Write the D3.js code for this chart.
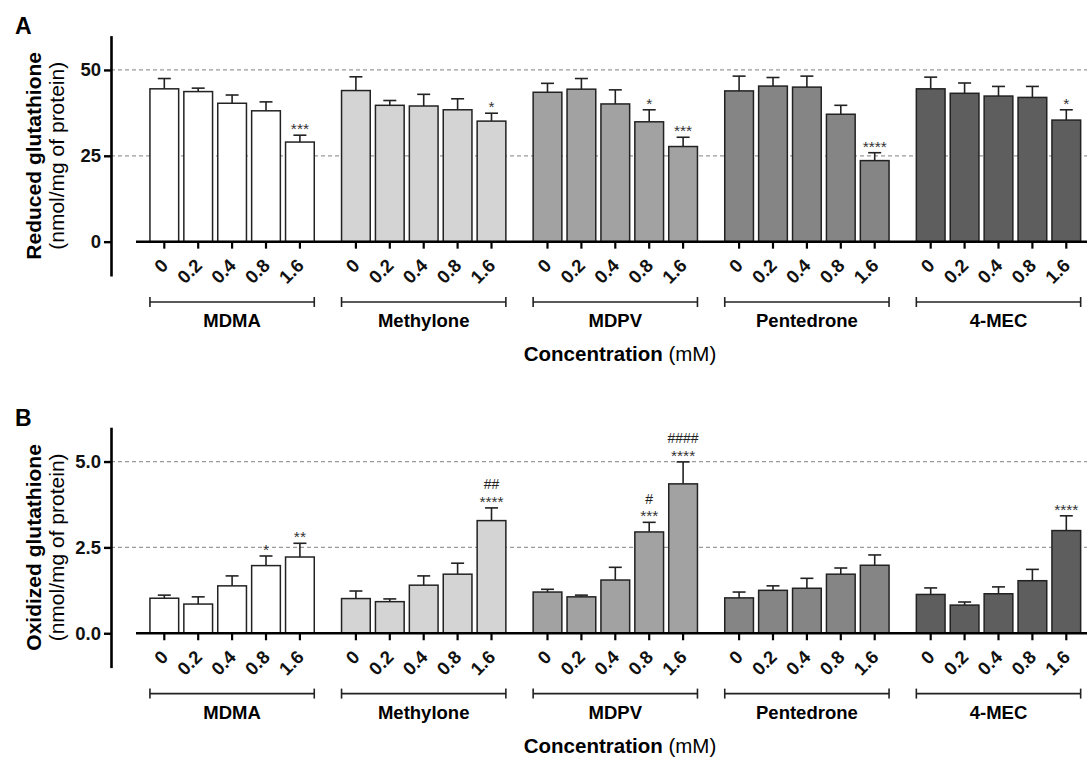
<!DOCTYPE html>
<html>
<head>
<meta charset="utf-8">
<script src="https://cdn.jsdelivr.net/npm/d3@7"></script>
<style>
  html, body { margin: 0; padding: 0; background: #fff; }
  svg { display: block; font-family: "Liberation Sans", Arial, sans-serif; }
</style>
</head>
<body>
<svg id="chart" width="1087" height="781"></svg>
<script>
// categories
const groups = ["MDMA", "Methylone", "MDPV", "Pentedrone", "4-MEC"];
const doses = ["0", "0.2", "0.4", "0.8", "1.6"];

// A - reduced glutathione (nmol/mg of protein), mean and SEM per group x dose
const gshMean = [
  [44.5, 43.7, 40.3, 38.1, 29.0],
  [44.0, 39.7, 39.5, 38.4, 35.1],
  [43.5, 44.4, 40.1, 34.9, 27.7],
  [43.9, 45.3, 45.0, 37.1, 23.6],
  [44.5, 43.2, 42.4, 42.0, 35.4]
];
const gshSem = [
  [3.0, 1.0, 2.4, 2.6, 2.0],
  [4.0, 1.4, 3.4, 3.2, 2.3],
  [2.6, 3.1, 4.1, 3.5, 2.7],
  [4.3, 2.5, 3.2, 2.6, 2.3],
  [3.4, 3.0, 2.8, 3.2, 3.0]
];
const gshStars = [
  ["", "", "", "", "***"],
  ["", "", "", "", "*"],
  ["", "", "", "*", "***"],
  ["", "", "", "", "****"],
  ["", "", "", "", "*"]
];
const gshHashes = [
  ["", "", "", "", ""],
  ["", "", "", "", ""],
  ["", "", "", "", ""],
  ["", "", "", "", ""],
  ["", "", "", "", ""]
];

// B - oxidized glutathione
const gssgMean = [
  [1.02, 0.85, 1.38, 1.97, 2.22],
  [1.01, 0.92, 1.40, 1.72, 3.28],
  [1.20, 1.06, 1.55, 2.95, 4.35],
  [1.03, 1.25, 1.31, 1.72, 1.98],
  [1.13, 0.82, 1.15, 1.53, 2.99]
];
const gssgSem = [
  [0.09, 0.21, 0.29, 0.28, 0.40],
  [0.22, 0.08, 0.27, 0.32, 0.37],
  [0.08, 0.05, 0.37, 0.28, 0.64],
  [0.17, 0.13, 0.29, 0.18, 0.30],
  [0.19, 0.09, 0.20, 0.33, 0.43]
];
const gssgStars = [
  ["", "", "", "*", "**"],
  ["", "", "", "", "****"],
  ["", "", "", "***", "****"],
  ["", "", "", "", ""],
  ["", "", "", "", "****"]
];
const gssgHashes = [
  ["", "", "", "", ""],
  ["", "", "", "", "##"],
  ["", "", "", "#", "####"],
  ["", "", "", "", ""],
  ["", "", "", "", ""]
];

// tick values of the y axes
const gshTicks = [0, 25, 50];
const gssgTicks = [0, 2.5, 5];

const fills = ["#ffffff", "#d4d4d4", "#a2a2a2", "#858585", "#5e5e5e"];
const FONT = "'Liberation Sans', Arial, sans-serif";

const svg = d3.select("#chart");

const axisX = 111;
const baseStart = 136;
const W = 1087;

const xGroup = d3.scaleBand()
  .domain(groups)
  .range([147.35, 1083.25])
  .paddingInner(0.1153)
  .paddingOuter(0);

const xDose = d3.scaleBand()
  .domain(doses)
  .range([0, xGroup.bandwidth()])
  .paddingInner(0.153)
  .paddingOuter(0.0765);

function drawPanel(opts) {
  const off = opts.offset;
  const g = svg.append("g").attr("transform", `translate(0,${off})`);

  const y = d3.scaleLinear().domain(opts.domain).range([276.0, 35.6]);

  // panel letter
  g.append("text")
    .attr("x", 15).attr("y", 34)
    .attr("font-size", 23).attr("font-weight", "bold")
    .attr("font-family", FONT)
    .text(opts.letter);

  // dashed reference lines
  g.selectAll("line.grid")
    .data(opts.ticks.filter(t => t > 0))
    .enter().append("line")
    .attr("class", "grid")
    .attr("x1", axisX).attr("x2", W)
    .attr("y1", d => y(d)).attr("y2", d => y(d))
    .attr("stroke", "#9a9a9a")
    .attr("stroke-width", 1.2)
    .attr("stroke-dasharray", "4,3");

  // bars per group
  groups.forEach((grp, gi) => {
    const gx = xGroup(grp);
    const rows = doses.map((d, di) => ({
      dose: d,
      mean: opts.mean[gi][di],
      sem: opts.sem[gi][di],
      star: opts.stars[gi][di],
      hash: opts.hashes[gi][di]
    }));

    const bg = g.append("g").attr("transform", `translate(${gx},0)`);

    // error bars (upper half only)
    bg.selectAll("line.err")
      .data(rows).enter().append("line")
      .attr("class", "err")
      .attr("x1", d => xDose(d.dose) + xDose.bandwidth() / 2)
      .attr("x2", d => xDose(d.dose) + xDose.bandwidth() / 2)
      .attr("y1", d => y(d.mean))
      .attr("y2", d => y(d.mean + d.sem))
      .attr("stroke", "#222").attr("stroke-width", 1.6);
    bg.selectAll("line.cap")
      .data(rows).enter().append("line")
      .attr("class", "cap")
      .attr("x1", d => xDose(d.dose) + xDose.bandwidth() / 2 - 6.5)
      .attr("x2", d => xDose(d.dose) + xDose.bandwidth() / 2 + 6.5)
      .attr("y1", d => y(d.mean + d.sem))
      .attr("y2", d => y(d.mean + d.sem))
      .attr("stroke", "#222").attr("stroke-width", 1.6);

    bg.selectAll("rect")
      .data(rows).enter().append("rect")
      .attr("x", d => xDose(d.dose))
      .attr("width", xDose.bandwidth())
      .attr("y", d => y(d.mean))
      .attr("height", d => y(0) - y(d.mean))
      .attr("fill", fills[gi])
      .attr("stroke", "#222")
      .attr("stroke-width", 1.5);

    // significance marks
    bg.selectAll("text.star")
      .data(rows.filter(d => d.star)).enter().append("text")
      .attr("class", "star")
      .attr("x", d => xDose(d.dose) + xDose.bandwidth() / 2)
      .attr("y", d => y(d.mean + d.sem) - 1)
      .attr("text-anchor", "middle")
      .attr("font-size", 15.5).attr("font-family", FONT)
      .attr("fill", "#333")
      .text(d => d.star);
    bg.selectAll("text.hash")
      .data(rows.filter(d => d.hash)).enter().append("text")
      .attr("class", "hash")
      .attr("x", d => xDose(d.dose) + xDose.bandwidth() / 2)
      .attr("y", d => y(d.mean + d.sem) - 18.5)
      .attr("text-anchor", "middle")
      .attr("font-size", 14).attr("font-family", FONT)
      .attr("fill", "#222")
      .text(d => d.hash);

    // x ticks for this group
    const ax = bg.append("g")
      .attr("transform", `translate(0,${y(0)})`)
      .call(d3.axisBottom(xDose).tickSize(7).tickSizeOuter(0));
    ax.select(".domain").remove();
    ax.selectAll(".tick line").attr("stroke", "#000").attr("stroke-width", 2.2);
    ax.selectAll(".tick text")
      .attr("font-size", 18.5).attr("font-weight", "bold")
      .attr("font-family", FONT).attr("fill", "#111")
      .attr("text-anchor", "end")
      .attr("dy", null).attr("y", null)
      .attr("transform", "translate(5,25) rotate(-45)");

    // group bracket
    const bx1 = xDose(doses[0]);
    const bx2 = xDose(doses[doses.length - 1]) + xDose.bandwidth();
    const by = 302;
    bg.append("line")
      .attr("x1", bx1).attr("x2", bx2).attr("y1", by).attr("y2", by)
      .attr("stroke", "#222").attr("stroke-width", 1.6);
    [bx1, bx2].forEach(bx => {
      bg.append("line")
        .attr("x1", bx).attr("x2", bx).attr("y1", by - 5).attr("y2", by + 5)
        .attr("stroke", "#222").attr("stroke-width", 1.6);
    });
    bg.append("text")
      .attr("x", (bx1 + bx2) / 2).attr("y", 327)
      .attr("text-anchor", "middle")
      .attr("font-size", 18.5).attr("font-weight", "bold")
      .attr("font-family", FONT)
      .text(grp);
  });

  // x baseline
  g.append("line")
    .attr("x1", baseStart).attr("x2", W)
    .attr("y1", y(0)).attr("y2", y(0))
    .attr("stroke", "#000").attr("stroke-width", 2.5);

  // y axis
  const ay = g.append("g")
    .attr("transform", `translate(${axisX},0)`)
    .call(d3.axisLeft(y).tickValues(opts.ticks).tickSize(7).tickSizeOuter(0)
      .tickFormat(opts.fmt));
  ay.select(".domain").attr("stroke", "#000").attr("stroke-width", 2.6);
  ay.selectAll(".tick line").attr("stroke", "#000").attr("stroke-width", 2.4);
  ay.selectAll(".tick text")
    .attr("font-size", 18.5).attr("font-weight", "bold")
    .attr("font-family", FONT).attr("fill", "#111")
    .attr("x", -10);

  // y titles
  const cy = (y(opts.domain[0]) + y(opts.domain[1])) / 2;
  g.append("text")
    .attr("transform", `translate(41,${cy}) rotate(-90)`)
    .attr("text-anchor", "middle")
    .attr("font-size", 21).attr("font-weight", "bold")
    .attr("font-family", FONT)
    .text(opts.title);
  g.append("text")
    .attr("transform", `translate(64,${cy}) rotate(-90)`)
    .attr("text-anchor", "middle")
    .attr("font-size", 21)
    .attr("font-family", FONT)
    .text("(nmol/mg of protein)");

  // x title
  const xt = g.append("text")
    .attr("x", 620).attr("y", 361)
    .attr("text-anchor", "middle")
    .attr("font-size", 20.5)
    .attr("font-family", FONT);
  xt.append("tspan").attr("font-weight", "bold").text("Concentration");
  xt.append("tspan").text(" (mM)");
}

drawPanel({
  offset: 0, letter: "A", domain: [-10, 60], ticks: gshTicks,
  fmt: d3.format("d"), title: "Reduced glutathione",
  mean: gshMean, sem: gshSem, stars: gshStars, hashes: gshHashes
});
drawPanel({
  offset: 391.6, letter: "B", domain: [-1, 6], ticks: gssgTicks,
  fmt: d3.format(".1f"), title: "Oxidized glutathione",
  mean: gssgMean, sem: gssgSem, stars: gssgStars, hashes: gssgHashes
});
</script>
</body>
</html>
